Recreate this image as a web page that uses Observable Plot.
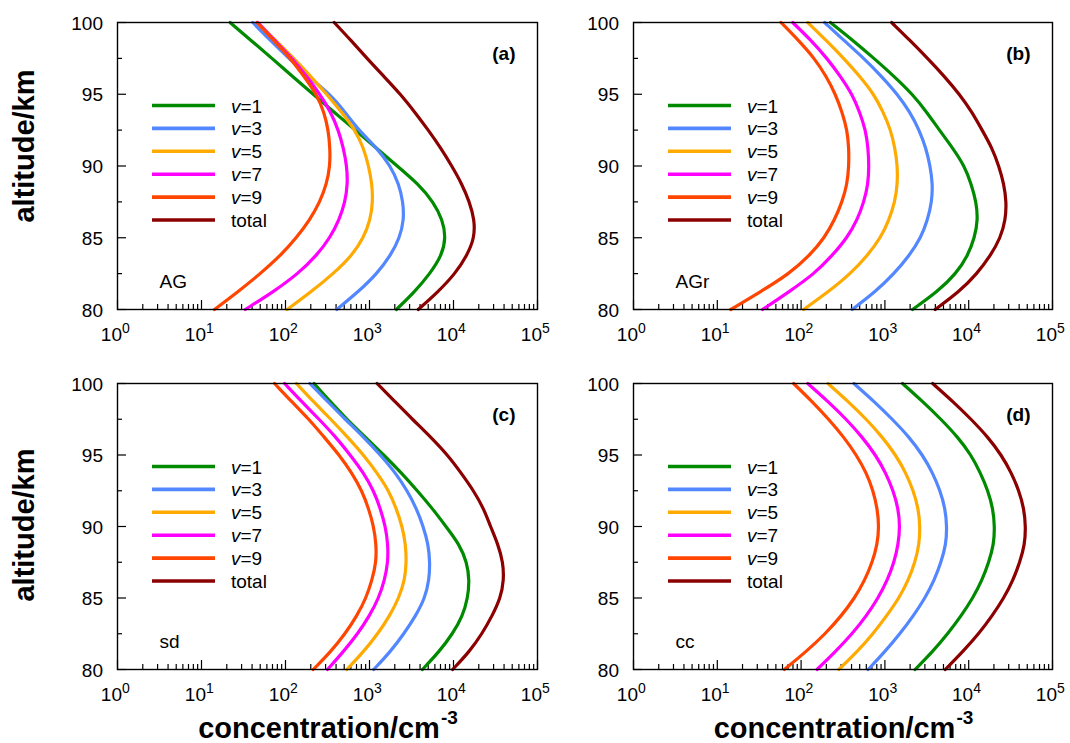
<!DOCTYPE html>
<html><head><meta charset="utf-8">
<script src="https://cdn.jsdelivr.net/npm/d3@7"></script>
<script src="https://cdn.jsdelivr.net/npm/@observablehq/plot@0.6"></script>
<style>
html,body{margin:0;padding:0;background:#fff;}
#wrap{position:relative;width:1070px;height:743px;overflow:hidden;background:#fff;}
#wrap svg{position:absolute;overflow:visible;background:transparent;max-width:none;}
</style></head><body><div id="wrap"></div>
<script>
// ---- data (concentrations stored as log10(cm^-3)) ----
const altitude = [100, 98.75, 97.5, 96.25, 95, 93.75, 92.5, 91.25, 90, 88.75, 87.5, 86.25, 85, 83.75, 82.5, 81.25, 80];
const seriesNames = ["v=1", "v=3", "v=5", "v=7", "v=9", "total"];
const seriesColors = ["#008a00", "#5287ff", "#ffaa00", "#ff00ff", "#ff4500", "#8b0000"];

// (a) AG
const AG_v1    = [1.34, 1.59, 1.84, 2.08, 2.33, 2.58, 2.83, 3.08, 3.33, 3.58, 3.76, 3.87, 3.91, 3.86, 3.72, 3.54, 3.32];
const AG_v3    = [1.61, 1.82, 2.04, 2.27, 2.53, 2.71, 2.87, 3.09, 3.25, 3.35, 3.40, 3.41, 3.36, 3.25, 3.09, 2.87, 2.61];
const AG_v5    = [1.67, 1.88, 2.10, 2.30, 2.49, 2.67, 2.83, 2.93, 2.99, 3.03, 3.04, 3.01, 2.93, 2.79, 2.57, 2.31, 2.02];
const AG_v7    = [1.67, 1.87, 2.08, 2.25, 2.41, 2.54, 2.63, 2.69, 2.73, 2.74, 2.71, 2.64, 2.53, 2.37, 2.15, 1.86, 1.52];
const AG_v9    = [1.66, 1.86, 2.06, 2.22, 2.37, 2.46, 2.51, 2.53, 2.53, 2.49, 2.41, 2.29, 2.13, 1.94, 1.70, 1.44, 1.155];
const AG_total = [2.58, 2.78, 2.97, 3.17, 3.37, 3.54, 3.70, 3.85, 3.98, 4.10, 4.19, 4.25, 4.25, 4.16, 4.02, 3.82, 3.58];
// (b) AGr
const AGr_v1    = [2.35, 2.62, 2.87, 3.11, 3.33, 3.50, 3.65, 3.81, 3.95, 4.03, 4.09, 4.11, 4.07, 3.99, 3.85, 3.63, 3.33];
const AGr_v3    = [2.28, 2.51, 2.75, 2.96, 3.15, 3.30, 3.41, 3.49, 3.54, 3.57, 3.56, 3.51, 3.43, 3.29, 3.11, 2.89, 2.61];
const AGr_v5    = [2.08, 2.30, 2.51, 2.70, 2.87, 2.98, 3.07, 3.12, 3.15, 3.15, 3.12, 3.05, 2.95, 2.79, 2.59, 2.33, 2.03];
const AGr_v7    = [1.90, 2.12, 2.31, 2.47, 2.61, 2.70, 2.77, 2.80, 2.81, 2.80, 2.75, 2.67, 2.55, 2.37, 2.16, 1.86, 1.54];
const AGr_v9    = [1.76, 1.97, 2.16, 2.30, 2.41, 2.49, 2.55, 2.57, 2.57, 2.55, 2.49, 2.40, 2.28, 2.10, 1.86, 1.52, 1.16];
const AGr_total = [3.08, 3.30, 3.51, 3.71, 3.89, 4.04, 4.16, 4.28, 4.36, 4.42, 4.45, 4.44, 4.38, 4.26, 4.10, 3.89, 3.60];
// (c) sd
const sd_v1    = [2.34, 2.53, 2.73, 2.95, 3.17, 3.38, 3.57, 3.75, 3.91, 4.07, 4.16, 4.19, 4.17, 4.11, 3.99, 3.83, 3.63];
const sd_v3    = [2.29, 2.50, 2.71, 2.93, 3.13, 3.31, 3.45, 3.56, 3.64, 3.70, 3.72, 3.71, 3.66, 3.55, 3.41, 3.25, 3.05];
const sd_v5    = [2.13, 2.33, 2.54, 2.74, 2.93, 3.09, 3.23, 3.32, 3.39, 3.43, 3.44, 3.42, 3.35, 3.24, 3.10, 2.93, 2.73];
const sd_v7    = [1.99, 2.19, 2.40, 2.60, 2.77, 2.93, 3.05, 3.13, 3.19, 3.22, 3.22, 3.18, 3.11, 3.00, 2.86, 2.69, 2.50];
const sd_v9    = [1.87, 2.07, 2.28, 2.46, 2.64, 2.79, 2.91, 2.99, 3.05, 3.08, 3.08, 3.03, 2.96, 2.85, 2.71, 2.54, 2.33];
const sd_total = [3.09, 3.30, 3.51, 3.73, 3.93, 4.09, 4.24, 4.36, 4.44, 4.53, 4.59, 4.60, 4.56, 4.46, 4.34, 4.19, 3.99];
// (d) cc
const cc_v1    = [3.21, 3.45, 3.67, 3.87, 4.03, 4.14, 4.23, 4.29, 4.31, 4.30, 4.24, 4.16, 4.05, 3.91, 3.75, 3.57, 3.36];
const cc_v3    = [2.63, 2.87, 3.09, 3.29, 3.45, 3.57, 3.66, 3.72, 3.74, 3.73, 3.67, 3.59, 3.48, 3.34, 3.18, 3.00, 2.80];
const cc_v5    = [2.32, 2.56, 2.78, 2.97, 3.13, 3.25, 3.34, 3.40, 3.42, 3.41, 3.36, 3.28, 3.17, 3.02, 2.86, 2.67, 2.45];
const cc_v7    = [2.08, 2.32, 2.54, 2.73, 2.89, 3.01, 3.10, 3.16, 3.18, 3.16, 3.11, 3.03, 2.92, 2.78, 2.61, 2.41, 2.19];
const cc_v9    = [1.91, 2.13, 2.33, 2.51, 2.66, 2.78, 2.86, 2.91, 2.93, 2.91, 2.85, 2.76, 2.64, 2.48, 2.29, 2.06, 1.80];
const cc_total = [3.57, 3.81, 4.03, 4.23, 4.39, 4.51, 4.60, 4.66, 4.68, 4.67, 4.61, 4.53, 4.42, 4.28, 4.12, 3.93, 3.72];

const panelTags = ["(a)", "(b)", "(c)", "(d)"];
const panelNames = ["AG", "AGr", "sd", "cc"];
const xTickExponents = [0, 1, 2, 3, 4, 5];
const yTicksMajor = [80, 85, 90, 95, 100];
const yTicksMinor = [82.5, 87.5, 92.5, 97.5];
const xTitle = "concentration/cm";
const xTitleSup = "-3";
const yTitle = "altitude/km";

const panelSeries = [
  [AG_v1, AG_v3, AG_v5, AG_v7, AG_v9, AG_total],
  [AGr_v1, AGr_v3, AGr_v5, AGr_v7, AGr_v9, AGr_total],
  [sd_v1, sd_v3, sd_v5, sd_v7, sd_v9, sd_total],
  [cc_v1, cc_v3, cc_v5, cc_v7, cc_v9, cc_total]
];

const FONT = "'Liberation Sans', Arial, Helvetica, sans-serif";
const xMajor = xTickExponents.map(e => 10 ** e);
const xMinor = d3.scaleLog().domain([1, 1e5]).ticks().filter(v => !xMajor.includes(v));

const layouts = [
  {left: 0,   top: 0,   width: 545, height: 360, ml: 117, mr: 8, mt: 22, mb: 51, row: 0, col: 0},
  {left: 515, top: 0,   width: 545, height: 360, ml: 118, mr: 8, mt: 22, mb: 51, row: 0, col: 1},
  {left: 0,   top: 360, width: 545, height: 383, ml: 117, mr: 8, mt: 23, mb: 74, row: 1, col: 0},
  {left: 515, top: 360, width: 545, height: 383, ml: 118, mr: 8, mt: 23, mb: 74, row: 1, col: 1}
];

const wrap = document.getElementById("wrap");

layouts.forEach((lay, p) => {
  const rows = panelSeries[p].flatMap((vals, s) =>
    vals.map((v, k) => ({series: seriesNames[s], alt: altitude[k], conc: 10 ** v})));
  const fw = lay.width - lay.ml - lay.mr;
  const fh = lay.height - lay.mt - lay.mb;

  const deco = (index, scales, values, dims) => {
    const g = d3.create("svg:g").attr("font-family", FONT).attr("fill", "black")
      .attr("text-anchor", "start").attr("font-size", 19);
    const left = dims.marginLeft, top = dims.marginTop;
    const right = dims.width - dims.marginRight, bottom = dims.height - dims.marginBottom;
    // x tick labels 10^n
    for (const e of xTickExponents) {
      const x = scales.x(10 ** e);
      g.append("text").attr("x", x + 5).attr("y", bottom + 32).attr("text-anchor", "end").text("10");
      g.append("text").attr("x", x + 5).attr("y", bottom + 24).attr("font-size", 14).text(String(e));
    }
    // y tick labels
    for (const v of yTicksMajor) {
      g.append("text").attr("x", left - 14).attr("y", scales.y(v)).attr("dy", "0.4em")
        .attr("text-anchor", "end").text(String(v));
    }
    // legend
    seriesNames.forEach((s, k) => {
      const y = top + 83.5 + k * 22.9;
      g.append("line").attr("x1", left + 35).attr("x2", left + 98).attr("y1", y).attr("y2", y)
        .attr("stroke", seriesColors[k]).attr("stroke-width", 3.6);
      const t = g.append("text").attr("x", left + 114).attr("y", y + 7);
      if (s.startsWith("v=")) {
        t.append("tspan").attr("font-style", "italic").text("v");
        t.append("tspan").text(s.slice(1));
      } else t.text(s);
    });
    // panel tag and dataset name
    g.append("text").attr("x", right - 21.5).attr("y", top + 37.5).attr("text-anchor", "end")
      .attr("font-weight", "bold").text(panelTags[p]);
    g.append("text").attr("x", left + 42.5).attr("y", bottom - 21.5).text(panelNames[p]);
    // axis titles
    if (lay.col === 0) {
      const cy = (top + bottom) / 2 + (lay.row === 0 ? -19.5 : -1);
      g.append("text").attr("transform", `translate(33.5,${cy}) rotate(-90)`)
        .attr("text-anchor", "middle").attr("font-size", 29).attr("font-weight", "bold").text(yTitle);
    }
    if (lay.row === 1) {
      const t = g.append("text").attr("x", (left + right) / 2 + 1).attr("y", bottom + 69)
        .attr("text-anchor", "middle").attr("font-size", 29).attr("font-weight", "bold");
      t.append("tspan").text(xTitle);
      t.append("tspan").attr("dx", 1).attr("dy", -14).attr("font-size", 19).text(xTitleSup);
    }
    return g.node();
  };

  const chart = Plot.plot({
    width: lay.width, height: lay.height,
    marginLeft: lay.ml, marginRight: lay.mr, marginTop: lay.mt, marginBottom: lay.mb,
    x: {type: "log", domain: [1, 1e5], axis: null},
    y: {domain: [80, 100], axis: null},
    color: {domain: seriesNames, range: seriesColors},
    style: {background: "transparent", overflow: "visible", fontFamily: FONT},
    marks: [
      Plot.tickX(xMinor, {x: d => d, insetTop: fh - 5, stroke: "black", strokeWidth: 1.2}),
      Plot.tickX(xMajor, {x: d => d, insetTop: fh - 9, stroke: "black", strokeWidth: 1.2}),
      Plot.tickY(yTicksMinor, {y: d => d, insetRight: fw - 5, stroke: "black", strokeWidth: 1.2}),
      Plot.tickY(yTicksMajor, {y: d => d, insetRight: fw - 9, stroke: "black", strokeWidth: 1.2}),
      Plot.line(rows, {x: "conc", y: "alt", z: "series", stroke: "series", strokeWidth: 3.2, curve: "basis"}),
      Plot.frame({stroke: "black", strokeWidth: 1.4}),
      deco
    ]
  });
  chart.style.position = "absolute";
  chart.style.left = lay.left + "px";
  chart.style.top = lay.top + "px";
  wrap.appendChild(chart);
});
</script></body></html>
